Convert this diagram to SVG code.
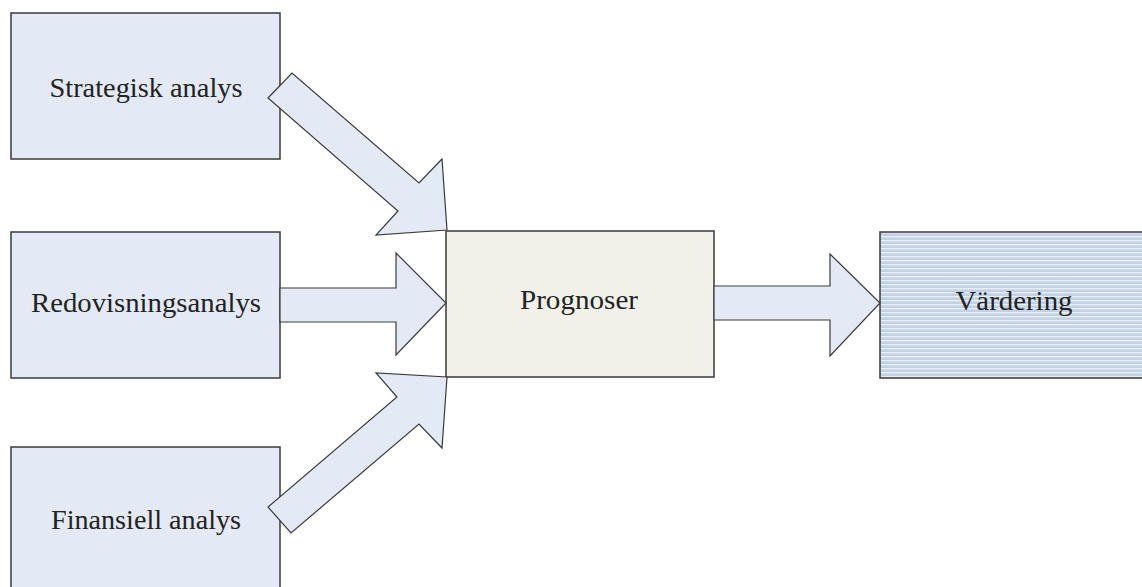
<svg xmlns="http://www.w3.org/2000/svg" width="1142" height="587" viewBox="0 0 1142 587">
<style>
.box{fill:#e4eaf5;stroke:#3a3a3a;stroke-width:1.5}
.arr{fill:#e4eaf5;stroke:#3a3a3a;stroke-width:1.2;stroke-linejoin:miter}
.lbl{font-family:"Liberation Serif",serif;font-size:27px;fill:#222;text-anchor:middle}
</style>
<defs>
<pattern id="stripes" width="8" height="4" patternUnits="userSpaceOnUse">
<rect width="8" height="4" fill="#c3d1e6"/>
<rect width="8" height="1.4" y="0" fill="#e8eef7"/>
</pattern>
</defs>
<rect width="1142" height="587" fill="#ffffff"/>
<g id="strategisk">
<rect class="box" x="11" y="13" width="269" height="146"/>
<text class="lbl" x="146" y="97" textLength="193" lengthAdjust="spacingAndGlyphs">Strategisk analys</text>
</g>
<g id="redovisning">
<rect class="box" x="11" y="232" width="269" height="146"/>
<text class="lbl" x="146" y="312" textLength="230" lengthAdjust="spacingAndGlyphs">Redovisningsanalys</text>
</g>
<g id="finansiell">
<rect class="box" x="11" y="447" width="269" height="150"/>
<text class="lbl" x="146" y="529" textLength="190" lengthAdjust="spacingAndGlyphs">Finansiell analys</text>
</g>
<g id="prognoser">
<rect x="446" y="231" width="268" height="146" fill="#f1f1ea" stroke="#3a3a3a" stroke-width="1.5"/>
<text class="lbl" x="579" y="309" textLength="118" lengthAdjust="spacingAndGlyphs">Prognoser</text>
</g>
<g id="vardering">
<rect x="880" y="232" width="270" height="146" fill="url(#stripes)" stroke="#3a3a3a" stroke-width="1.5"/>
<text class="lbl" x="1014" y="310" textLength="117" lengthAdjust="spacingAndGlyphs">Värdering</text>
</g>
<g id="connectors">
<polygon class="arr" points="268,98 292,73 419,183 442,159 447,230 376,235 398,211"/>
<polygon class="arr" points="280,288 396,288 396,253 446,303 396,355 396,322 280,322"/>
<polygon class="arr" points="268,507 291,533 419,424 442,448 447,377 376,373 397,397"/>
<polygon class="arr" points="714,286 830,286 830,254 880,303 830,356 830,320 714,320"/>
</g>
</svg>
